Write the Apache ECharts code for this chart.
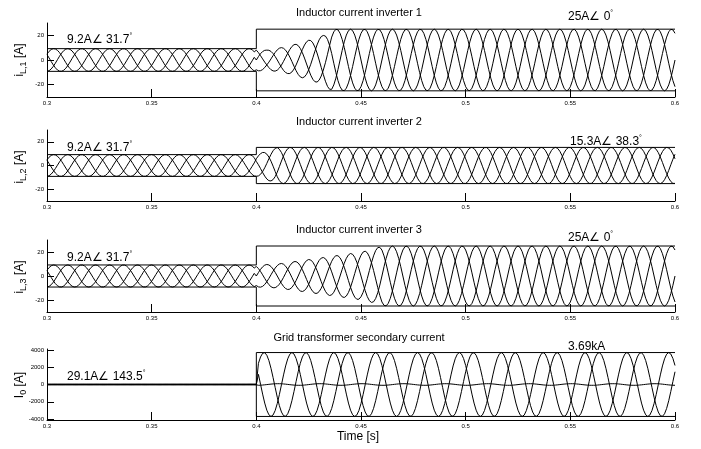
<!DOCTYPE html>
<html>
<head>
<meta charset="UTF-8" />
<script src="https://cdn.jsdelivr.net/npm/echarts@6/dist/echarts.min.js"></script>
<style>
  body { margin: 0; background: #fff; }
  #chart { width: 701px; height: 449px; }
</style>
</head>
<body>
<div id="chart"></div>
<script>
// time axis
var tStart = 0.3, tEnd = 0.6, tStep = 0.001
var freq = 50 // Hz
var xTicks = [0.3, 0.35, 0.4, 0.45, 0.5, 0.55, 0.6]
var tSwitch = 0.4

// amplitude envelopes: breakpoint times and peak values
var env1T = [0.3, 0.4, 0.405, 0.415, 0.425, 0.432, 0.436, 0.6]
var env1A = [9.2, 9.2, 8, 11, 16, 20, 25, 25]
var env2T = [0.3, 0.4, 0.41, 0.6]
var env2A = [9.2, 9.2, 15.3, 15.3]
var env3T = [0.3, 0.4, 0.41, 0.43, 0.45, 0.455, 0.46, 0.6]
var env3A = [9.2, 9.2, 10, 15, 20, 22, 25, 25]
var env4T = [0.3, 0.4, 0.401, 0.6]
var env4A = [29.1, 29.1, 3690, 3690]

// phase angles before / after the step [deg]
var phase1 = [31.7, 0]
var phase2 = [31.7, 38.3]
var phase3 = [31.7, 0]
var phase4 = [143.5, 143.5]
// per-phase scale of the grid current after the step (third phase stays small)
var gridScale = [1, 1, 0.025]

// box (rms marker) levels: before / after the step
var box1 = [9.2, 25]
var box2 = [9.2, 15.3]
var box3 = [9.2, 25]
var box4 = [29.1, 3690]

var yTicksA = [-20, 0, 20]
var yTicksG = [-4000, -2000, 0, 2000, 4000]

var grids = [
  { top: 23, height: 74 },
  { top: 130, height: 71 },
  { top: 240, height: 72 },
  { top: 349, height: 71 }
]

function ampAt(T, A, t) {
  if (t <= T[0]) return A[0]
  for (var i = 1; i < T.length; i++) {
    if (t <= T[i]) {
      var r = (t - T[i - 1]) / (T[i] - T[i - 1])
      return A[i - 1] + r * (A[i] - A[i - 1])
    }
  }
  return A[A.length - 1]
}

function wave(T, A, ph, shift, scaleAfter) {
  var out = []
  var n = Math.round((tEnd - tStart) / tStep)
  for (var k = 0; k <= n; k++) {
    var t = tStart + k * tStep
    var a = ampAt(T, A, t)
    if (t > tSwitch && scaleAfter != null) a *= scaleAfter
    var p = (t < tSwitch ? ph[0] : ph[1]) + shift
    out.push([t, a * Math.sin(2 * Math.PI * freq * t + p * Math.PI / 180)])
  }
  return out
}

function boxLine(b, sign) {
  return [[tStart, sign * b[0]], [tSwitch, sign * b[0]], [tSwitch, sign * b[1]], [tEnd, sign * b[1]]]
}

var lineBase = { type: 'line', symbol: 'none', animation: false, silent: true, lineStyle: { color: '#000', width: 1 } }

function panelSeries(idx, T, A, ph, box, scales) {
  var s = []
  var shifts = [0, -120, 120]
  for (var j = 0; j < 3; j++) {
    s.push(Object.assign({}, lineBase, {
      xAxisIndex: idx, yAxisIndex: idx,
      data: wave(T, A, ph, shifts[j], scales ? scales[j] : null)
    }))
  }
  s.push(Object.assign({}, lineBase, { xAxisIndex: idx, yAxisIndex: idx, data: boxLine(box, 1) }))
  s.push(Object.assign({}, lineBase, { xAxisIndex: idx, yAxisIndex: idx, data: boxLine(box, -1) }))
  return s
}

var series = []
  .concat(panelSeries(0, env1T, env1A, phase1, box1))
  .concat(panelSeries(1, env2T, env2A, phase2, box2))
  .concat(panelSeries(2, env3T, env3A, phase3, box3))
  .concat(panelSeries(3, env4T, env4A, phase4, box4, gridScale))

var axisStyle = { lineStyle: { color: '#000', width: 1 }, onZero: false }
var plain = function (v) { return String(v) }

var xAxes = grids.map(function (g, i) {
  return {
    type: 'value', gridIndex: i, min: tStart, max: tEnd,
    axisLine: axisStyle,
    axisTick: { inside: true, length: 8, customValues: xTicks, lineStyle: { color: '#000' } },
    axisLabel: { customValues: xTicks, formatter: plain, fontSize: 6, color: '#000', margin: 3, fontFamily: 'Liberation Sans' },
    splitLine: { show: false }
  }
})

var yAxes = grids.map(function (g, i) {
  var grid = i === 3
  var ticks = grid ? yTicksG : yTicksA
  return {
    type: 'value', gridIndex: i,
    min: grid ? -4100 : -30, max: grid ? 4100 : 30,
    axisLine: axisStyle,
    axisTick: { inside: true, length: 7, customValues: ticks, lineStyle: { color: '#000' } },
    axisLabel: { customValues: ticks, formatter: plain, fontSize: 6, color: '#000', margin: 3, fontFamily: 'Liberation Sans' },
    splitLine: { show: false }
  }
})

var font = 'Liberation Sans'
var richTxt = {
  n: { fontSize: 12, fontFamily: font, color: '#000' },
  d: { fontSize: 7, fontFamily: font, color: '#000', verticalAlign: 'top', padding: [0, 0, 6, 0] }
}

function note(x, y, main, deg) {
  return {
    type: 'text', left: x, top: y - 7, silent: true,
    style: { text: '{n|' + main + '}' + (deg ? '{d|°}' : ''), rich: richTxt }
  }
}
function title(y, txt) {
  return {
    type: 'text', x: 359, y: y, silent: true,
    style: { text: txt, fontSize: 11, fontFamily: font, fill: '#000', align: 'center', verticalAlign: 'middle' }
  }
}
function yName(y, sym, sub) {
  return {
    type: 'text', x: 20, y: y, rotation: Math.PI / 2, silent: true,
    style: {
      text: '{n|' + sym + '}{s|' + sub + '}{n| [A]}', align: 'center', verticalAlign: 'middle',
      rich: {
        n: { fontSize: 12, fontFamily: font, color: '#000' },
        s: { fontSize: 9, fontFamily: font, color: '#000', padding: [7, 0, 0, 0] }
      }
    }
  }
}

var graphics = [
  title(13, 'Inductor current inverter 1'),
  title(122, 'Inductor current inverter 2'),
  title(230, 'Inductor current inverter 3'),
  title(338, 'Grid transformer secondary current'),
  note(67, 40, '9.2A∠ 31.7', true),
  note(568, 17, '25A∠ 0', true),
  note(67, 148, '9.2A∠ 31.7', true),
  note(570, 142, '15.3A∠ 38.3', true),
  note(67, 258, '9.2A∠ 31.7', true),
  note(568, 238, '25A∠ 0', true),
  note(67, 377, '29.1A∠ 143.5', true),
  note(568, 348, '3.69kA', false),
  yName(60, 'i', 'L,1'),
  yName(167, 'i', 'L,2'),
  yName(277, 'i', 'L,3'),
  yName(385, 'I', '0'),
  {
    type: 'text', x: 358, y: 437, silent: true,
    style: { text: 'Time [s]', fontSize: 12, fontFamily: font, fill: '#000', align: 'center', verticalAlign: 'middle' }
  }
]

var chart = echarts.init(document.getElementById('chart'))
chart.setOption({
  backgroundColor: '#fff',
  animation: false,
  grid: grids.map(function (g) { return { left: 47, right: 26, top: g.top, height: g.height } }),
  xAxis: xAxes,
  yAxis: yAxes,
  series: series,
  graphic: graphics
})
</script>
</body>
</html>
